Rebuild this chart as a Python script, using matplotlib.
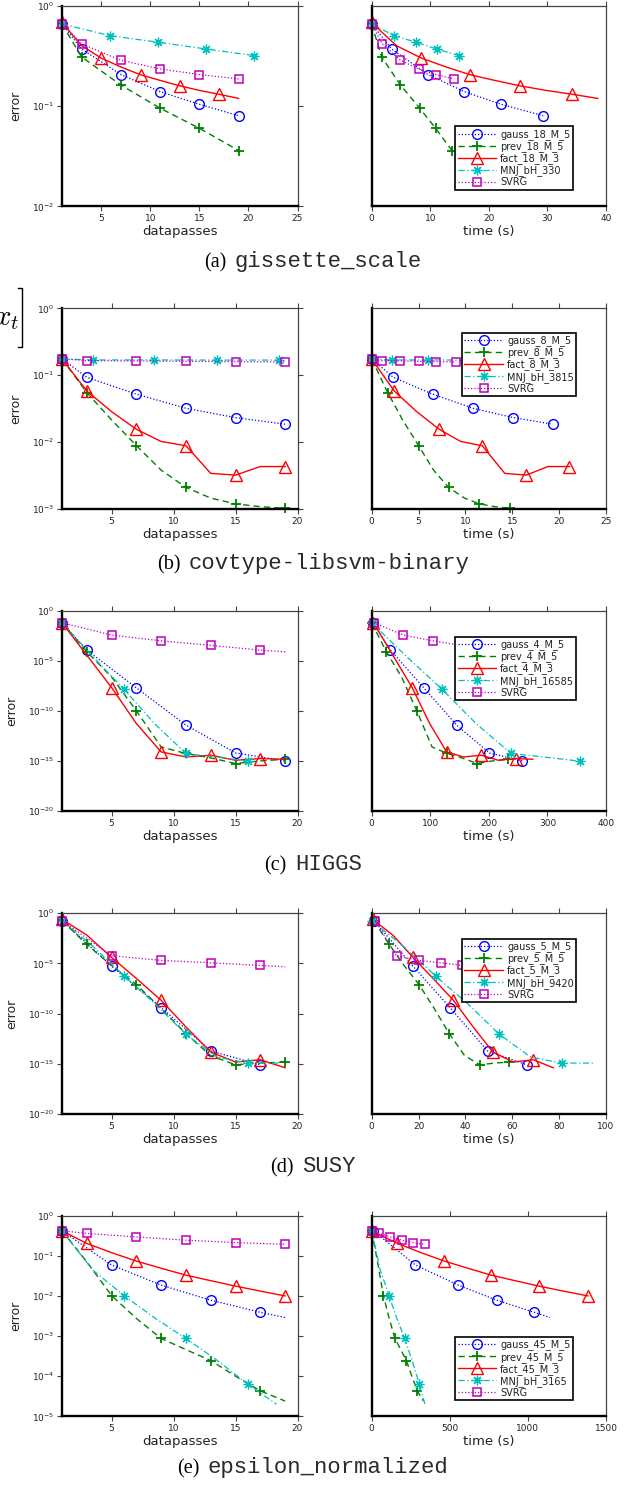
import numpy as np
import matplotlib
matplotlib.use("Agg")
import matplotlib.pyplot as plt
from matplotlib.lines import Line2D
from matplotlib.ticker import FixedLocator, NullLocator, FuncFormatter
from matplotlib.offsetbox import TextArea, HPacker, AnnotationBbox

W, H = 629, 1485
METHODS = ["gauss", "prev", "fact", "MNJ", "SVRG"]

# ---------------- (a) gissette_scale ----------------
gis_labels = ["gauss_18_M_5", "prev_18_M_5", "fact_18_M_3", "MNJ_bH_330", "SVRG"]
gis_dp = {"gauss": [1, 3, 7, 11, 15, 19],
          "prev": [1, 3, 7, 11, 15, 19],
          "fact": [1, 3, 5, 7, 9, 11, 13, 15, 17, 19],
          "MNJ": [1, 5.9, 10.8, 15.7, 20.6],
          "SVRG": [1, 3, 7, 11, 15, 19]}
gis_t = {"gauss": [0, 3.4, 9.6, 15.8, 22.1, 29.3],
         "prev": [0, 1.7, 4.9, 8.2, 10.9, 13.7],
         "fact": [0, 4.2, 8.5, 12.7, 16.8, 21.0, 25.3, 29.8, 34.2, 38.6],
         "MNJ": [0, 3.8, 7.6, 11.1, 14.9],
         "SVRG": [0, 1.8, 4.9, 8.0, 10.9, 14.1]}
gis_err = {"gauss": [0.657, 0.37, 0.206, 0.139, 0.104, 0.080],
           "prev": [0.657, 0.308, 0.162, 0.095, 0.060, 0.036],
           "fact": [0.68, 0.40, 0.30, 0.245, 0.205, 0.18, 0.159, 0.143, 0.131, 0.119],
           "MNJ": [0.657, 0.503, 0.432, 0.37, 0.318],
           "SVRG": [0.657, 0.416, 0.286, 0.234, 0.206, 0.186]}
gis_mark = {"gauss": [0, 1, 2, 3, 4, 5], "prev": [0, 1, 2, 3, 4, 5],
            "fact": [0, 2, 4, 6, 8], "MNJ": [0, 1, 2, 3, 4],
            "SVRG": [0, 1, 2, 3, 4, 5]}

# ---------------- (b) covtype-libsvm-binary ----------------
cov_labels = ["gauss_8_M_5", "prev_8_M_5", "fact_8_M_3", "MNJ_bH_3815", "SVRG"]
cov_dp = {"gauss": [1, 3, 7, 11, 15, 19],
          "prev": [1, 3, 5, 7, 9, 11, 13, 15, 17, 19],
          "fact": [1, 3, 5, 7, 9, 11, 13, 15, 17, 19],
          "MNJ": [1, 3.5, 8.4, 13.5, 18.5],
          "SVRG": [1, 3, 7, 11, 15, 19]}
cov_t = {"gauss": [0, 2.3, 6.5, 10.8, 15.1, 19.3],
         "prev": [0, 1.7, 3.3, 5.0, 6.6, 8.2, 9.9, 11.5, 13.1, 14.8],
         "fact": [0, 2.4, 4.8, 7.2, 9.5, 11.8, 14.2, 16.5, 18.8, 21.1],
         "MNJ": [0, 2.2, 6.0, 9.8, 13.6],
         "SVRG": [0, 1.1, 3.0, 5.0, 6.9, 9.0]}
cov_err = {"gauss": [0.175, 0.093, 0.052, 0.032, 0.0232, 0.0185],
           "prev": [0.175, 0.055, 0.0214, 0.00885, 0.0038, 0.0021, 0.00145, 0.00119, 0.00108, 0.00102],
           "fact": [0.175, 0.058, 0.0285, 0.0155, 0.0102, 0.0088, 0.0034, 0.0032, 0.0043, 0.0043],
           "MNJ": [0.175, 0.169, 0.169, 0.168, 0.168],
           "SVRG": [0.175, 0.165, 0.163, 0.161, 0.159, 0.158]}
cov_mark = {"gauss": [0, 1, 2, 3, 4, 5], "prev": [0, 1, 3, 5, 7, 9],
            "fact": [0, 1, 3, 5, 7, 9], "MNJ": [0, 1, 2, 3, 4],
            "SVRG": [0, 1, 2, 3, 4, 5]}

# ---------------- (c) HIGGS ----------------
hig_labels = ["gauss_4_M_5", "prev_4_M_5", "fact_4_M_3", "MNJ_bH_16585", "SVRG"]
hig_dp = {"gauss": [1, 3, 7, 11, 15, 19],
          "prev": [1, 3, 5, 7, 9, 11, 13, 15, 17, 19],
          "fact": [1, 3, 5, 7, 9, 11, 13, 15, 17, 19],
          "MNJ": [1, 3.5, 6, 8.5, 11, 13.5, 16],
          "SVRG": [1, 5, 9, 13, 17, 19]}
hig_t = {"gauss": [2, 32, 89, 145, 201, 257],
         "prev": [0, 25, 51, 77, 103, 129, 154, 180, 206, 233],
         "fact": [3, 36, 69, 99, 128, 157, 187, 216, 246, 275],
         "MNJ": [0, 60, 120, 179, 238, 296, 355],
         "SVRG": [4, 54, 104, 153, 203, 228]}
hig_err = {"gauss": [0.063, 1.17e-4, 2.04e-8, 3.9e-12, 6.6e-15, 1.05e-15],
           "prev": [0.063, 8.1e-5, 2.5e-7, 1.05e-10, 2.6e-14, 5.8e-15, 2.1e-15, 5.8e-16, 1.05e-15, 1.55e-15],
           "fact": [0.063, 3.7e-5, 2.2e-8, 5.6e-12, 8.3e-15, 2.6e-15, 3.9e-15, 1.23e-15, 1.8e-15, 1.55e-15],
           "MNJ": [0.063, 2.5e-5, 1.5e-8, 5e-12, 5.8e-15, 2.5e-15, 1e-15],
           "SVRG": [0.063, 3.7e-3, 1e-3, 3.5e-4, 1.17e-4, 8.1e-5]}
hig_mark = {"gauss": [0, 1, 2, 3, 4, 5], "prev": [0, 1, 3, 5, 7, 9],
            "fact": [0, 2, 4, 6, 8], "MNJ": [0, 2, 4, 6],
            "SVRG": [0, 1, 2, 3, 4]}

# ---------------- (d) SUSY ----------------
sus_labels = ["gauss_5_M_5", "prev_5_M_5", "fact_5_M_3", "MNJ_bH_9420", "SVRG"]
sus_dp = {"gauss": [1, 5, 9, 13, 17],
          "prev": [1, 3, 5, 7, 9, 11, 13, 15, 17, 19],
          "fact": [1, 3, 5, 7, 9, 11, 13, 15, 17, 19],
          "MNJ": [1, 3.5, 6, 8.5, 11, 13.5, 16, 18.5],
          "SVRG": [1, 5, 9, 13, 17, 19]}
sus_t = {"gauss": [1, 17.6, 33.4, 49.5, 66.1],
         "prev": [0.9, 7.5, 13.8, 20.2, 26.7, 33.1, 39.7, 46.2, 52.5, 58.7],
         "fact": [0.4, 9, 17.6, 26.2, 34.9, 43.3, 51.7, 60.3, 69, 77.5],
         "MNJ": [0, 13.6, 27.3, 40.9, 54.5, 67.8, 81.1, 94.6],
         "SVRG": [1.5, 10.6, 20, 29.4, 38.7, 43.4]}
sus_err = {"gauss": [0.186, 5.4e-6, 4e-10, 1.86e-14, 7.9e-16],
           "prev": [0.186, 7.9e-4, 6.3e-6, 7.9e-8, 3.2e-10, 1e-12, 6.3e-15, 7.9e-16, 1.17e-15, 1.48e-15],
           "fact": [0.25, 6.8e-3, 4e-5, 3.2e-7, 2.1e-9, 4.7e-12, 1.48e-14, 1.48e-15, 2.5e-15, 4e-16],
           "MNJ": [0.186, 5e-4, 5.4e-7, 1e-9, 8.5e-13, 4.7e-15, 1.17e-15, 1.17e-15],
           "SVRG": [0.186, 5.9e-5, 2e-5, 1.17e-5, 6.3e-6, 4.7e-6]}
sus_mark = {"gauss": [0, 1, 2, 3, 4], "prev": [0, 1, 3, 5, 7, 9],
            "fact": [0, 2, 4, 6, 8], "MNJ": [0, 2, 4, 6],
            "SVRG": [0, 1, 2, 3, 4]}

# ---------------- (e) epsilon_normalized ----------------
eps_labels = ["gauss_45_M_5", "prev_45_M_5", "fact_45_M_3", "MNJ_bH_3165", "SVRG"]
eps_dp = {"gauss": [1, 5, 9, 13, 17, 19],
          "prev": [1, 3, 5, 7, 9, 11, 13, 15, 17, 19],
          "fact": [1, 3, 5, 7, 9, 11, 13, 15, 17, 19],
          "MNJ": [1, 3.5, 6, 8.5, 11, 13.5, 16, 18.3],
          "SVRG": [1, 3, 7, 11, 15, 19]}
eps_t = {"gauss": [10, 280, 555, 800, 1040, 1141],
         "prev": [0, 37, 75, 112, 149, 186, 222, 257, 292, 331],
         "fact": [0, 165, 315, 465, 615, 765, 918, 1070, 1228, 1385],
         "MNJ": [0, 55, 111, 160, 211, 258, 305, 341],
         "SVRG": [0, 49, 120, 196, 267, 341]}
eps_err = {"gauss": [0.42, 0.059, 0.0186, 0.00785, 0.0039, 0.0029],
           "prev": [0.42, 0.0708, 0.0102, 2.75e-3, 8.7e-4, 4.6e-4, 2.45e-4, 1e-4, 4.3e-5, 2.4e-5],
           "fact": [0.42, 0.204, 0.12, 0.074, 0.049, 0.033, 0.024, 0.0176, 0.0132, 0.010],
           "MNJ": [0.42, 0.0437, 0.0102, 2.8e-3, 8.7e-4, 2.5e-4, 6.3e-5, 2e-5],
           "SVRG": [0.42, 0.363, 0.295, 0.245, 0.214, 0.193]}
eps_mark = {"gauss": [0, 1, 2, 3, 4], "prev": [0, 2, 4, 6, 8],
            "fact": [0, 1, 3, 5, 7, 9], "MNJ": [0, 2, 4, 6],
            "SVRG": [0, 1, 2, 3, 4, 5]}

# axis settings
left_xticks = [[5, 10, 15, 20, 25], [5, 10, 15, 20], [5, 10, 15, 20], [5, 10, 15, 20], [5, 10, 15, 20]]
right_xticks = [[0, 10, 20, 30, 40], [0, 5, 10, 15, 20, 25], [0, 100, 200, 300, 400],
                [0, 20, 40, 60, 80, 100], [0, 500, 1000, 1500]]
y_exponents = [[-2, -1, 0], [-3, -2, -1, 0], [-20, -15, -10, -5, 0], [-20, -15, -10, -5, 0],
               [-5, -4, -3, -2, -1, 0]]
captions = [("(a)", "gissette_scale"), ("(b)", "covtype-libsvm-binary"), ("(c)", "HIGGS"),
            ("(d)", "SUSY"), ("(e)", "epsilon_normalized")]

datasets = [(gis_dp, gis_t, gis_err, gis_mark, gis_labels),
            (cov_dp, cov_t, cov_err, cov_mark, cov_labels),
            (hig_dp, hig_t, hig_err, hig_mark, hig_labels),
            (sus_dp, sus_t, sus_err, sus_mark, sus_labels),
            (eps_dp, eps_t, eps_err, eps_mark, eps_labels)]

STYLE = {
    "gauss": dict(color="#0000ff", ls=(0, (1, 1.6)), lw=0.9, marker="o", ms=7, mfc="none", mew=1.0),
    "prev": dict(color="#008000", ls=(0, (4.5, 3)), lw=1.0, marker="+", ms=7, mew=1.3),
    "fact": dict(color="#ff0000", ls="-", lw=1.0, marker="^", ms=8, mfc="none", mew=1.0),
    "MNJ": dict(color="#00bfbf", ls=(0, (5, 2, 1, 2)), lw=0.9, marker=(8, 2, 0), ms=7, mew=0.9),
    "SVRG": dict(color="#bf00bf", ls=(0, (1, 1.6)), lw=0.9, marker="s", ms=6, mfc="none", mew=1.1),
}

plt.rcParams["font.family"] = ["DejaVu Sans"]
fig = plt.figure(figsize=(W / 100, H / 100), dpi=100)

row_tops = [5.7, 308.3, 610.7, 913.3, 1215.7]
AX_H = 200.6
LEFT_X = (62.0, 297.5)
RIGHT_X = (371.7, 606.0)
legend_pos = [("lower left", (0.356, 0.083)), ("upper left", (0.385, 0.877)),
              ("upper left", (0.356, 0.869)), ("upper left", (0.385, 0.872)),
              ("lower left", (0.356, 0.080))]

fmt = FuncFormatter(lambda v, _: r"$10^{%d}$" % int(round(np.log10(v))))


def style_axes(ax, is_left):
    for side in ("left", "bottom"):
        ax.spines[side].set_linewidth(1.7)
        ax.spines[side].set_color("black")
    for side in ("top", "right"):
        ax.spines[side].set_linewidth(0.9)
        ax.spines[side].set_color("#444444")
    ax.tick_params(which="major", direction="out", length=3.5, width=0.8, color="#444444",
                   labelsize=6.5, labelcolor="#222222", pad=2,
                   top=True, bottom=True, left=is_left, right=is_left,
                   labelleft=is_left, labelright=False, labeltop=False)
    ax.yaxis.set_minor_locator(NullLocator())
    ax.xaxis.set_minor_locator(NullLocator())


for i, (dp, tt, err, mark, labels) in enumerate(datasets):
    top = row_tops[i]
    y0 = 1 - (top + AX_H) / H
    axL = fig.add_axes([LEFT_X[0] / W, y0, (LEFT_X[1] - LEFT_X[0]) / W, AX_H / H])
    axR = fig.add_axes([RIGHT_X[0] / W, y0, (RIGHT_X[1] - RIGHT_X[0]) / W, AX_H / H])
    for m in METHODS:
        axL.plot(dp[m], err[m], markevery=mark[m], clip_on=False, **STYLE[m])
        axR.plot(tt[m], err[m], markevery=mark[m], clip_on=False, **STYLE[m])
    yt = [10.0 ** e for e in y_exponents[i]]
    for ax, is_left in ((axL, True), (axR, False)):
        ax.set_yscale("log")
        ax.set_ylim(yt[0], yt[-1])
        ax.yaxis.set_major_locator(FixedLocator(yt))
        ax.yaxis.set_major_formatter(fmt)
        style_axes(ax, is_left)
    axL.set_xlim(1, left_xticks[i][-1])
    axL.set_xticks(left_xticks[i])
    axR.set_xlim(right_xticks[i][0], right_xticks[i][-1])
    axR.set_xticks(right_xticks[i])
    axL.set_xlabel("datapasses", fontsize=9.5, color="#222222", labelpad=1.5)
    axR.set_xlabel("time (s)", fontsize=9.5, color="#222222", labelpad=1.5)
    axL.set_ylabel("error", fontsize=9, color="#222222", labelpad=7)

    handles = [Line2D([], [], **STYLE[m]) for m in METHODS]
    loc, anchor = legend_pos[i]
    leg = axR.legend(handles, labels, loc=loc, bbox_to_anchor=anchor, borderaxespad=0,
                     fontsize=7, frameon=True, fancybox=False, edgecolor="black", framealpha=1,
                     handlelength=4.0, handletextpad=0.4, labelspacing=0.12, borderpad=0.25)
    leg.get_frame().set_linewidth(1.2)
    for txt in leg.get_texts():
        txt.set_color("#222222")

    # caption
    letter, name = captions[i]
    ta1 = TextArea(letter, textprops=dict(family="Liberation Serif", size=14.5, color="black"))
    ta2 = TextArea(name, textprops=dict(family="Liberation Mono", size=16, color="#2a2a2a"))
    box = HPacker(children=[ta1, ta2], align="baseline", pad=0, sep=6)
    ycap = 262 + 301.5 * i
    ab = AnnotationBbox(box, (313 / W, 1 - ycap / H), xycoords="figure fraction",
                        frameon=False, box_alignment=(0.5, 0.5))
    fig.add_artist(ab)

# fragment of an equation cut at the left edge of the page
fig.text(19 / W, 1 - 318 / H, r"$x_t$", ha="right", va="center", fontsize=21,
         math_fontfamily="cm")
bx, btop, bbot = 21.5 / W, 1 - 288 / H, 1 - 347 / H
fig.add_artist(Line2D([bx - 3.5 / W, bx, bx, bx - 3.5 / W], [btop, btop, bbot, bbot],
                      transform=fig.transFigure, color="black", lw=1.0))

fig.savefig("out.png", dpi=100)
